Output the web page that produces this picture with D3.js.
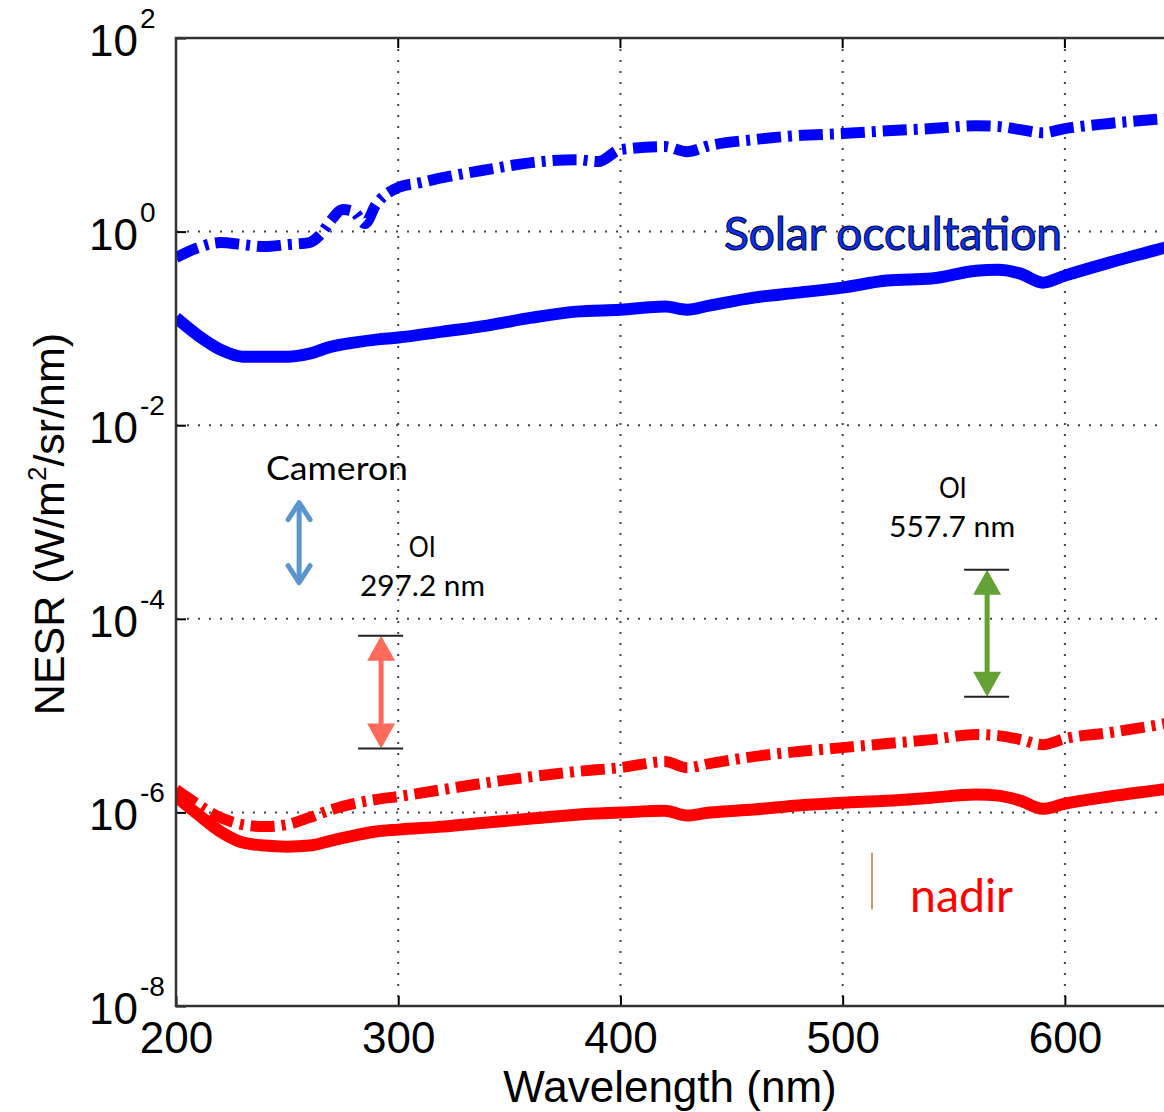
<!DOCTYPE html>
<html>
<head>
<meta charset="utf-8">
<script src="https://cdn.jsdelivr.net/npm/d3@7"></script>
<style>
body { margin: 0; background: #fff; }
svg { display: block; }
.axis text { font-family: "Liberation Sans", Arial, sans-serif; font-size: 44px; fill: #000; }
.note { font-family: Lato, "Open Sans", sans-serif; }
</style>
</head>
<body>
<svg width="1164" height="1112"></svg>
<script>
// wavelength grid (nm) for the nadir curves and solar occultation solid curve
var wavelength = [200, 210, 220, 230, 240, 250, 260, 270, 280, 290, 300, 320, 340, 360, 380, 400,
                  420, 430, 440, 460, 480, 500, 520, 540, 560, 570, 580, 590, 600, 620, 640, 650];

// NESR, W/m2/sr/nm
var occSolid = [0.129, 0.0843, 0.0604, 0.0511, 0.0511, 0.0511, 0.0549, 0.0649, 0.0713, 0.0766, 0.0804,
                0.0927, 0.107, 0.129, 0.149, 0.156, 0.168, 0.156, 0.172, 0.208, 0.234, 0.264, 0.312,
                0.327, 0.395, 0.404, 0.368, 0.297, 0.351, 0.478, 0.636, 0.734];

var nadirSolid = [1.46e-6, 9.48e-7, 6.34e-7, 4.88e-7, 4.54e-7, 4.43e-7, 4.54e-7, 5.12e-7, 5.75e-7, 6.34e-7,
                  6.64e-7, 7.13e-7, 7.85e-7, 8.63e-7, 9.48e-7, 9.96e-7, 1.04e-6, 9.27e-7, 9.96e-7, 1.07e-6,
                  1.18e-6, 1.26e-6, 1.32e-6, 1.42e-6, 1.53e-6, 1.49e-6, 1.32e-6, 1.09e-6, 1.23e-6, 1.46e-6,
                  1.68e-6, 1.80e-6];

var nadirDashDot = [1.72e-6, 1.20e-6, 8.84e-7, 7.48e-7, 7.13e-7, 7.48e-7, 8.84e-7, 1.07e-6, 1.23e-6, 1.36e-6,
                    1.46e-6, 1.72e-6, 2.03e-6, 2.34e-6, 2.64e-6, 2.90e-6, 3.35e-6, 2.90e-6, 3.19e-6, 3.77e-6,
                    4.25e-6, 4.67e-6, 5.14e-6, 5.65e-6, 6.37e-6, 6.21e-6, 5.65e-6, 5.01e-6, 5.78e-6, 6.67e-6,
                    7.88e-6, 8.67e-6];

// the noisy solar occultation dash-dot curve has its own grid
var wavelengthOcc = [200, 210, 220, 230, 240, 250, 260, 265, 270, 275, 280, 285, 290, 300, 310, 320, 340,
                     360, 380, 390, 400, 420, 430, 440, 460, 480, 500, 520, 540, 560, 570, 580, 590, 600,
                     620, 640, 650];
var occDashDot = [0.539, 0.684, 0.770, 0.734, 0.700, 0.734, 0.770, 0.931, 1.33, 1.69, 1.61, 1.21, 1.90,
                  2.85, 3.21, 3.61, 4.37, 5.16, 5.54, 5.29, 7.03, 7.55, 6.70, 7.73, 8.92, 9.82, 10.3,
                  11.0, 11.6, 12.4, 12.2, 11.3, 10.5, 11.6, 13.1, 14.4, 15.1];

var xTicks = [200, 300, 400, 500, 600];
var yTicks = [1e2, 1e0, 1e-2, 1e-4, 1e-6, 1e-8];
var yExponents = ["2", "0", "-2", "-4", "-6", "-8"];

// emission line ranges: [wavelength, upper, lower]
var cameron = [255.4, 1.70e-3, 2.20e-4];
var oi297 = [292.3, 6.70e-5, 4.56e-6];
var oi557 = [565.0, 3.22e-4, 1.57e-5];

var svg = d3.select("svg"),
    pLeft = 176, pRight = 1164, pTop = 38, pBottom = 1006;

var x = d3.scaleLinear().domain([200, 650]).range([pLeft, 1176]);
var y = d3.scaleLog().domain([1e-8, 1e2]).range([pBottom, pTop]);

svg.append("defs").append("clipPath").attr("id", "plot")
    .append("rect").attr("x", pLeft).attr("y", pTop)
    .attr("width", pRight - pLeft).attr("height", pBottom - pTop);

// dotted grid
var grid = svg.append("g").attr("stroke", "#444").attr("stroke-width", 2)
    .attr("stroke-dasharray", "2 9");
grid.selectAll(".gx").data(xTicks.slice(1)).enter().append("line")
    .attr("x1", function(d) { return x(d); }).attr("x2", function(d) { return x(d); })
    .attr("y1", pTop).attr("y2", pBottom);
grid.selectAll(".gy").data(yTicks.slice(1, -1)).enter().append("line")
    .attr("x1", pLeft).attr("x2", pRight)
    .attr("y1", function(d) { return y(d); }).attr("y2", function(d) { return y(d); });

// curves
var line = d3.line()
    .x(function(d) { return x(d[0]); })
    .y(function(d) { return y(d[1]); })
    .curve(d3.curveMonotoneX);

var curves = [
    {wl: wavelengthOcc, v: occDashDot, color: "#0000ff", dash: "24 7 4 7", w: 11},
    {wl: wavelength, v: occSolid, color: "#0000ff", dash: null, w: 12},
    {wl: wavelength, v: nadirDashDot, color: "#ff0000", dash: "24 7 4 7", w: 11},
    {wl: wavelength, v: nadirSolid, color: "#ff0000", dash: null, w: 12}
];

svg.append("g").attr("clip-path", "url(#plot)")
    .selectAll("path").data(curves).enter().append("path")
    .attr("d", function(c) { return line(d3.zip(c.wl, c.v)); })
    .attr("fill", "none")
    .attr("stroke", function(c) { return c.color; })
    .attr("stroke-width", function(c) { return c.w; })
    .attr("stroke-dasharray", function(c) { return c.dash; });

// axes
var xAxis = svg.append("g").attr("class", "axis")
    .attr("transform", "translate(0," + pBottom + ")")
    .call(d3.axisBottom(x).tickValues(xTicks).tickSize(-10).tickPadding(16).tickFormat(d3.format("d")));
xAxis.select(".domain").remove();
xAxis.selectAll(".tick line").attr("stroke", "#000").attr("stroke-width", 2);

var yAxis = svg.append("g").attr("class", "axis")
    .attr("transform", "translate(" + pLeft + ",0)")
    .call(d3.axisLeft(y).tickValues(yTicks).tickSize(-10).tickFormat(""));
yAxis.select(".domain").remove();
yAxis.selectAll(".tick line").attr("stroke", "#000").attr("stroke-width", 2);

svg.append("g").selectAll("line").data(xTicks.slice(1)).enter().append("line")
    .attr("x1", function(d) { return x(d); }).attr("x2", function(d) { return x(d); })
    .attr("y1", pTop).attr("y2", pTop + 10).attr("stroke", "#000").attr("stroke-width", 2);

// frame
svg.append("path")
    .attr("d", "M" + pRight + "," + pTop + "H" + pLeft + "V" + pBottom + "H" + pRight)
    .attr("fill", "none").attr("stroke", "#333").attr("stroke-width", 2.5);

// y tick labels 10^n
var yl = svg.append("g").attr("class", "axis");
yTicks.forEach(function(t, i) {
    yl.append("text").attr("x", 138).attr("y", y(t) + 18)
        .attr("text-anchor", "end").text("10");
    yl.append("text").attr("x", 140).attr("y", y(t) - 10)
        .style("font-size", "28px").text(yExponents[i]);
});

// axis titles
svg.append("text")
    .attr("x", 670).attr("y", 1102).attr("text-anchor", "middle")
    .style("font-family", "Liberation Sans, Arial, sans-serif").style("font-size", "44px")
    .text("Wavelength (nm)");

var yt = svg.append("text")
    .attr("transform", "translate(64,524) rotate(-90)")
    .attr("text-anchor", "middle")
    .style("font-family", "Liberation Sans, Arial, sans-serif").style("font-size", "43px");
yt.append("tspan").text("NESR (W/m");
yt.append("tspan").attr("dy", -18).style("font-size", "26px").text("2");
yt.append("tspan").attr("dy", 18).text("/sr/nm)");

// annotations
function capArrow(r, color) {
    var g = svg.append("g"), cx = x(r[0]), y1 = y(r[1]), y2 = y(r[2]);
    g.append("line").attr("x1", cx).attr("x2", cx).attr("y1", y1 + 20).attr("y2", y2 - 20)
        .attr("stroke", color).attr("stroke-width", 5);
    g.append("path").attr("fill", color)
        .attr("d", "M" + cx + "," + y1 + "l-14,25h28z M" + cx + "," + y2 + "l-14,-25h28z");
    g.selectAll(".cap").data([y1, y2]).enter().append("line")
        .attr("x1", cx - 23).attr("x2", cx + 22)
        .attr("y1", function(d) { return d; }).attr("y2", function(d) { return d; })
        .attr("stroke", "#222").attr("stroke-width", 2);
}

// Cameron: open chevron heads
(function() {
    var cx = x(cameron[0]), y1 = y(cameron[1]), y2 = y(cameron[2]), c = "#5b95cc";
    var g = svg.append("g").attr("stroke", c).attr("stroke-width", 5).attr("fill", "none");
    g.append("line").attr("x1", cx).attr("x2", cx).attr("y1", y1 + 3).attr("y2", y2 - 3);
    g.append("path").attr("stroke-linejoin", "round").attr("stroke-linecap", "round")
        .attr("d", "M" + (cx - 11) + "," + (y1 + 20) + "L" + cx + "," + (y1 + 3) + "L" + (cx + 11) + "," + (y1 + 20) +
                   "M" + (cx - 11) + "," + (y2 - 20) + "L" + cx + "," + (y2 - 3) + "L" + (cx + 11) + "," + (y2 - 20));
})();
capArrow(oi297, "#ff6a5a");
capArrow(oi557, "#63a134");

var notes = [
    {text: "Solar occultation", wl: 446.6, v: 0.652, size: 46, len: 338, fill: "#0a32ff", stroke: "#000a40"},
    {text: "Cameron", wl: 240.5, v: 2.74e-3, size: 32, len: 142, fill: "#000"},
    {text: "OI", wl: 304.7, v: 4.39e-4, size: 29, len: 27, fill: "#000"},
    {text: "297.2 nm", wl: 282.8, v: 1.74e-4, size: 29, len: 125, fill: "#000"},
    {text: "OI", wl: 543.3, v: 1.79e-3, size: 29, len: 28, fill: "#000"},
    {text: "557.7 nm", wl: 520.9, v: 7.06e-4, size: 29, len: 126, fill: "#000"},
    {text: "nadir", wl: 530.3, v: 9.45e-8, size: 46, len: 103, fill: "#ff0000"}
];
svg.selectAll(".note").data(notes).enter().append("text")
    .attr("class", "note")
    .attr("x", function(d) { return x(d.wl); })
    .attr("y", function(d) { return y(d.v); })
    .attr("textLength", function(d) { return d.len; })
    .attr("lengthAdjust", "spacingAndGlyphs")
    .style("font-size", function(d) { return d.size + "px"; })
    .attr("fill", function(d) { return d.fill; })
    .attr("stroke", function(d) { return d.stroke || null; })
    .attr("stroke-width", function(d) { return d.stroke ? 1.2 : null; })
    .text(function(d) { return d.text; });

// small marker line left of "nadir"
svg.append("line")
    .attr("x1", x(513.2)).attr("x2", x(513.2))
    .attr("y1", y(3.84e-7)).attr("y2", y(9.9e-8))
    .attr("stroke", "#c87533").attr("stroke-width", 1.5);
</script>
</body>
</html>
